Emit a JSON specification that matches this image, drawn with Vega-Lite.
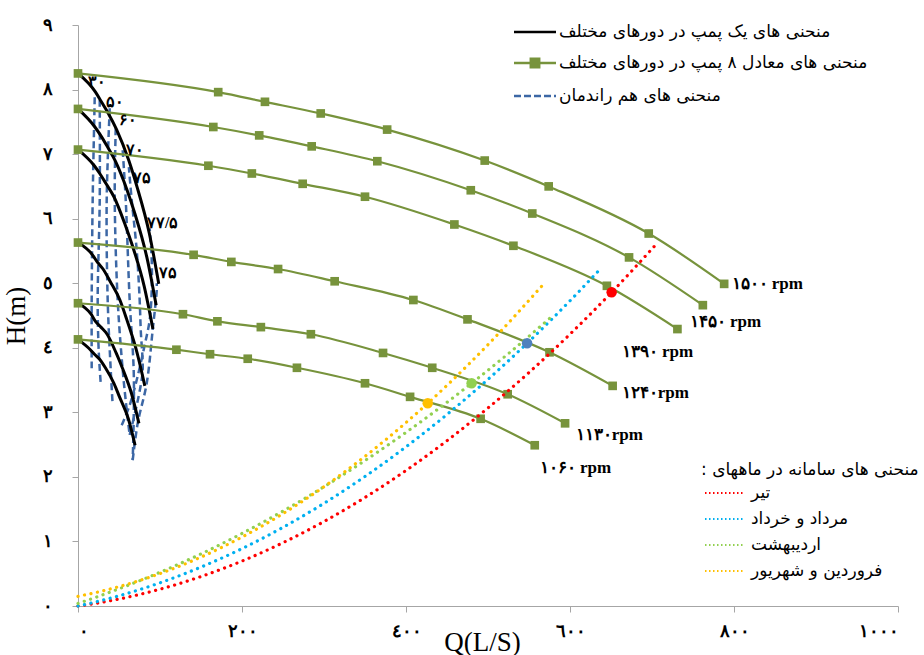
{
  "$schema": "https://vega.github.io/schema/vega-lite/v6.json",
  "width": 820,
  "height": 581,
  "autosize": {"type": "none"},
  "padding": {"left": 78, "top": 25, "right": 26, "bottom": 49},
  "background": "white",
  "config": {
    "view": {"stroke": null},
    "axis": {
      "grid": false,
      "domainColor": "#A6A6A6",
      "tickColor": "#A6A6A6",
      "tickSize": 6,
      "labelFont": "Liberation Serif",
      "labelFontWeight": "bold",
      "labelFontSize": 18,
      "labelColor": "#000000",
      "titleFont": "Liberation Serif",
      "titleFontWeight": "normal",
      "titleFontSize": 27,
      "titleColor": "#000000"
    }
  },
  "datasets": {
    "single": [
      {"c": "a", "s": "1500", "x": 0, "y": 8.25}, {"c": "a", "s": "1500", "x": 21.4, "y": 7.96}, {"c": "a", "s": "1500", "x": 28.5, "y": 7.81}, {"c": "a", "s": "1500", "x": 37, "y": 7.63}, {"c": "a", "s": "1500", "x": 47.1, "y": 7.38}, {"c": "a", "s": "1500", "x": 62, "y": 6.9}, {"c": "a", "s": "1500", "x": 71.8, "y": 6.5}, {"c": "a", "s": "1500", "x": 87, "y": 5.77}, {"c": "a", "s": "1500", "x": 98.5, "y": 4.99},
      {"c": "a", "s": "1450", "x": 0, "y": 7.7}, {"c": "a", "s": "1450", "x": 20.6, "y": 7.42}, {"c": "a", "s": "1450", "x": 27.6, "y": 7.29}, {"c": "a", "s": "1450", "x": 35.6, "y": 7.12}, {"c": "a", "s": "1450", "x": 45.6, "y": 6.89}, {"c": "a", "s": "1450", "x": 59.9, "y": 6.44}, {"c": "a", "s": "1450", "x": 69.3, "y": 6.08}, {"c": "a", "s": "1450", "x": 84, "y": 5.4}, {"c": "a", "s": "1450", "x": 95.3, "y": 4.66},
      {"c": "a", "s": "1390", "x": 0, "y": 7.07}, {"c": "a", "s": "1390", "x": 19.9, "y": 6.82}, {"c": "a", "s": "1390", "x": 26.5, "y": 6.7}, {"c": "a", "s": "1390", "x": 34.3, "y": 6.54}, {"c": "a", "s": "1390", "x": 43.8, "y": 6.34}, {"c": "a", "s": "1390", "x": 57.4, "y": 5.91}, {"c": "a", "s": "1390", "x": 66.4, "y": 5.58}, {"c": "a", "s": "1390", "x": 80.6, "y": 4.96}, {"c": "a", "s": "1390", "x": 91.4, "y": 4.29},
      {"c": "a", "s": "1240", "x": 0, "y": 5.63}, {"c": "a", "s": "1240", "x": 17.6, "y": 5.44}, {"c": "a", "s": "1240", "x": 23.4, "y": 5.33}, {"c": "a", "s": "1240", "x": 30.5, "y": 5.22}, {"c": "a", "s": "1240", "x": 39.1, "y": 5.03}, {"c": "a", "s": "1240", "x": 51.1, "y": 4.74}, {"c": "a", "s": "1240", "x": 59.4, "y": 4.44}, {"c": "a", "s": "1240", "x": 71.9, "y": 3.93}, {"c": "a", "s": "1240", "x": 81.5, "y": 3.41},
      {"c": "a", "s": "1130", "x": 0, "y": 4.69}, {"c": "a", "s": "1130", "x": 16, "y": 4.52}, {"c": "a", "s": "1130", "x": 21.3, "y": 4.41}, {"c": "a", "s": "1130", "x": 27.9, "y": 4.32}, {"c": "a", "s": "1130", "x": 35.5, "y": 4.21}, {"c": "a", "s": "1130", "x": 46.5, "y": 3.92}, {"c": "a", "s": "1130", "x": 54, "y": 3.69}, {"c": "a", "s": "1130", "x": 65.5, "y": 3.28}, {"c": "a", "s": "1130", "x": 74.3, "y": 2.83},
      {"c": "a", "s": "1060", "x": 0, "y": 4.13}, {"c": "a", "s": "1060", "x": 15, "y": 3.97}, {"c": "a", "s": "1060", "x": 20.1, "y": 3.9}, {"c": "a", "s": "1060", "x": 25.9, "y": 3.83}, {"c": "a", "s": "1060", "x": 33.4, "y": 3.69}, {"c": "a", "s": "1060", "x": 43.8, "y": 3.45}, {"c": "a", "s": "1060", "x": 50.6, "y": 3.24}, {"c": "a", "s": "1060", "x": 61.4, "y": 2.9}, {"c": "a", "s": "1060", "x": 69.6, "y": 2.49}
    ],
    "eight": [
      {"c": "b", "s": "1500", "x": 0, "y": 8.25}, {"c": "b", "s": "1500", "x": 171, "y": 7.96}, {"c": "b", "s": "1500", "x": 228, "y": 7.81}, {"c": "b", "s": "1500", "x": 296, "y": 7.63}, {"c": "b", "s": "1500", "x": 377, "y": 7.38}, {"c": "b", "s": "1500", "x": 496, "y": 6.9}, {"c": "b", "s": "1500", "x": 574, "y": 6.5}, {"c": "b", "s": "1500", "x": 696, "y": 5.77}, {"c": "b", "s": "1500", "x": 788, "y": 4.99},
      {"c": "b", "s": "1450", "x": 0, "y": 7.7}, {"c": "b", "s": "1450", "x": 165, "y": 7.42}, {"c": "b", "s": "1450", "x": 221, "y": 7.29}, {"c": "b", "s": "1450", "x": 285, "y": 7.12}, {"c": "b", "s": "1450", "x": 365, "y": 6.89}, {"c": "b", "s": "1450", "x": 479, "y": 6.44}, {"c": "b", "s": "1450", "x": 554, "y": 6.08}, {"c": "b", "s": "1450", "x": 672, "y": 5.4}, {"c": "b", "s": "1450", "x": 762, "y": 4.66},
      {"c": "b", "s": "1390", "x": 0, "y": 7.07}, {"c": "b", "s": "1390", "x": 159, "y": 6.82}, {"c": "b", "s": "1390", "x": 212, "y": 6.7}, {"c": "b", "s": "1390", "x": 274, "y": 6.54}, {"c": "b", "s": "1390", "x": 350, "y": 6.34}, {"c": "b", "s": "1390", "x": 459, "y": 5.91}, {"c": "b", "s": "1390", "x": 531, "y": 5.58}, {"c": "b", "s": "1390", "x": 645, "y": 4.96}, {"c": "b", "s": "1390", "x": 731, "y": 4.29},
      {"c": "b", "s": "1240", "x": 0, "y": 5.63}, {"c": "b", "s": "1240", "x": 141, "y": 5.44}, {"c": "b", "s": "1240", "x": 187, "y": 5.33}, {"c": "b", "s": "1240", "x": 244, "y": 5.22}, {"c": "b", "s": "1240", "x": 313, "y": 5.03}, {"c": "b", "s": "1240", "x": 409, "y": 4.74}, {"c": "b", "s": "1240", "x": 475, "y": 4.44}, {"c": "b", "s": "1240", "x": 575, "y": 3.93}, {"c": "b", "s": "1240", "x": 652, "y": 3.41},
      {"c": "b", "s": "1130", "x": 0, "y": 4.69}, {"c": "b", "s": "1130", "x": 128, "y": 4.52}, {"c": "b", "s": "1130", "x": 170, "y": 4.41}, {"c": "b", "s": "1130", "x": 223, "y": 4.32}, {"c": "b", "s": "1130", "x": 284, "y": 4.21}, {"c": "b", "s": "1130", "x": 372, "y": 3.92}, {"c": "b", "s": "1130", "x": 432, "y": 3.69}, {"c": "b", "s": "1130", "x": 524, "y": 3.28}, {"c": "b", "s": "1130", "x": 594, "y": 2.83},
      {"c": "b", "s": "1060", "x": 0, "y": 4.13}, {"c": "b", "s": "1060", "x": 120, "y": 3.97}, {"c": "b", "s": "1060", "x": 161, "y": 3.9}, {"c": "b", "s": "1060", "x": 207, "y": 3.83}, {"c": "b", "s": "1060", "x": 267, "y": 3.69}, {"c": "b", "s": "1060", "x": 350, "y": 3.45}, {"c": "b", "s": "1060", "x": 405, "y": 3.24}, {"c": "b", "s": "1060", "x": 491, "y": 2.9}, {"c": "b", "s": "1060", "x": 557, "y": 2.49}
    ],
    "iso": [
      {"c": "c", "s": "A", "i": 1, "x": 20.4, "y": 7.88}, {"c": "c", "s": "A", "i": 2, "x": 17.9, "y": 6.29}, {"c": "c", "s": "A", "i": 3, "x": 16.7, "y": 4.74}, {"c": "c", "s": "A", "i": 4, "x": 16.7, "y": 3.62},
      {"c": "c", "s": "B", "i": 1, "x": 26.5, "y": 7.84}, {"c": "c", "s": "B", "i": 2, "x": 26.5, "y": 6.29}, {"c": "c", "s": "B", "i": 3, "x": 24.0, "y": 4.74}, {"c": "c", "s": "B", "i": 4, "x": 25.2, "y": 3.97}, {"c": "c", "s": "B", "i": 5, "x": 27.7, "y": 3.45},
      {"c": "c", "s": "C", "i": 1, "x": 38.7, "y": 7.71}, {"c": "c", "s": "C", "i": 2, "x": 35.0, "y": 6.29}, {"c": "c", "s": "C", "i": 3, "x": 36.2, "y": 4.74}, {"c": "c", "s": "C", "i": 4, "x": 39.9, "y": 3.66}, {"c": "c", "s": "C", "i": 5, "x": 42.3, "y": 3.11},
      {"c": "c", "s": "D", "i": 1, "x": 46.0, "y": 7.4}, {"c": "c", "s": "D", "i": 2, "x": 44.8, "y": 6.29}, {"c": "c", "s": "D", "i": 3, "x": 48.4, "y": 4.74}, {"c": "c", "s": "D", "i": 4, "x": 54.5, "y": 3.66}, {"c": "c", "s": "D", "i": 5, "x": 59.4, "y": 3.04}, {"c": "c", "s": "D", "i": 6, "x": 63.0, "y": 2.65},
      {"c": "c", "s": "H", "i": 1, "x": 63.0, "y": 2.65}, {"c": "c", "s": "H", "i": 2, "x": 70.4, "y": 3.04}, {"c": "c", "s": "H", "i": 3, "x": 76.5, "y": 3.42}, {"c": "c", "s": "H", "i": 4, "x": 78.9, "y": 3.66}, {"c": "c", "s": "H", "i": 5, "x": 76.5, "y": 4.28}, {"c": "c", "s": "H", "i": 6, "x": 75.2, "y": 4.74}, {"c": "c", "s": "H", "i": 7, "x": 71.6, "y": 5.51}, {"c": "c", "s": "H", "i": 8, "x": 65.5, "y": 6.29}, {"c": "c", "s": "H", "i": 9, "x": 62.0, "y": 6.8},
      {"c": "c", "s": "E", "i": 1, "x": 54.5, "y": 7.06}, {"c": "c", "s": "E", "i": 2, "x": 58.2, "y": 6.29}, {"c": "c", "s": "E", "i": 3, "x": 63.0, "y": 4.74}, {"c": "c", "s": "E", "i": 4, "x": 67.9, "y": 3.66}, {"c": "c", "s": "E", "i": 5, "x": 67.9, "y": 2.88}, {"c": "c", "s": "E", "i": 6, "x": 66.7, "y": 2.26},
      {"c": "c", "s": "I", "i": 1, "x": 66.7, "y": 2.26}, {"c": "c", "s": "I", "i": 2, "x": 72.8, "y": 2.83}, {"c": "c", "s": "I", "i": 3, "x": 83.8, "y": 3.45}, {"c": "c", "s": "I", "i": 4, "x": 91.1, "y": 4.28}, {"c": "c", "s": "I", "i": 5, "x": 96.0, "y": 4.89}, {"c": "c", "s": "I", "i": 6, "x": 96.0, "y": 5.0},
      {"c": "c", "s": "F", "i": 1, "x": 53.3, "y": 2.8}, {"c": "c", "s": "F", "i": 2, "x": 63.0, "y": 3.11}, {"c": "c", "s": "F", "i": 3, "x": 71.6, "y": 3.5}, {"c": "c", "s": "F", "i": 4, "x": 81.3, "y": 4.04}, {"c": "c", "s": "F", "i": 5, "x": 87.4, "y": 4.43}, {"c": "c", "s": "F", "i": 6, "x": 89.9, "y": 4.89}, {"c": "c", "s": "F", "i": 7, "x": 89.9, "y": 5.36}, {"c": "c", "s": "F", "i": 8, "x": 87.4, "y": 5.85}
    ],
    "sys": [
      {"m": "tir", "x": 0, "y": 0}, {"m": "tir", "x": 25, "y": 0.048}, {"m": "tir", "x": 50, "y": 0.108}, {"m": "tir", "x": 100, "y": 0.26}, {"m": "tir", "x": 150, "y": 0.456}, {"m": "tir", "x": 200, "y": 0.696}, {"m": "tir", "x": 250, "y": 0.981}, {"m": "tir", "x": 300, "y": 1.309}, {"m": "tir", "x": 350, "y": 1.682}, {"m": "tir", "x": 400, "y": 2.099}, {"m": "tir", "x": 450, "y": 2.561}, {"m": "tir", "x": 500, "y": 3.067}, {"m": "tir", "x": 550, "y": 3.617}, {"m": "tir", "x": 600, "y": 4.211}, {"m": "tir", "x": 650, "y": 4.849}, {"m": "tir", "x": 703, "y": 5.574},
      {"m": "mor", "x": 0, "y": 0}, {"m": "mor", "x": 25, "y": 0.074}, {"m": "mor", "x": 50, "y": 0.158}, {"m": "mor", "x": 100, "y": 0.359}, {"m": "mor", "x": 150, "y": 0.603}, {"m": "mor", "x": 200, "y": 0.889}, {"m": "mor", "x": 250, "y": 1.219}, {"m": "mor", "x": 300, "y": 1.591}, {"m": "mor", "x": 350, "y": 2.007}, {"m": "mor", "x": 400, "y": 2.465}, {"m": "mor", "x": 450, "y": 2.967}, {"m": "mor", "x": 500, "y": 3.511}, {"m": "mor", "x": 548, "y": 4.074}, {"m": "mor", "x": 600, "y": 4.728}, {"m": "mor", "x": 634, "y": 5.181},
      {"m": "ord", "x": 0, "y": 0.04}, {"m": "ord", "x": 25, "y": 0.149}, {"m": "ord", "x": 50, "y": 0.266}, {"m": "ord", "x": 100, "y": 0.522}, {"m": "ord", "x": 150, "y": 0.807}, {"m": "ord", "x": 200, "y": 1.124}, {"m": "ord", "x": 250, "y": 1.47}, {"m": "ord", "x": 300, "y": 1.847}, {"m": "ord", "x": 350, "y": 2.253}, {"m": "ord", "x": 400, "y": 2.689}, {"m": "ord", "x": 450, "y": 3.155}, {"m": "ord", "x": 480, "y": 3.45}, {"m": "ord", "x": 525, "y": 3.911}, {"m": "ord", "x": 575, "y": 4.453},
      {"m": "far", "x": 0, "y": 0.15}, {"m": "far", "x": 25, "y": 0.218}, {"m": "far", "x": 50, "y": 0.3}, {"m": "far", "x": 100, "y": 0.502}, {"m": "far", "x": 150, "y": 0.758}, {"m": "far", "x": 200, "y": 1.068}, {"m": "far", "x": 250, "y": 1.431}, {"m": "far", "x": 300, "y": 1.848}, {"m": "far", "x": 350, "y": 2.318}, {"m": "far", "x": 400, "y": 2.841}, {"m": "far", "x": 426.5, "y": 3.14}, {"m": "far", "x": 450, "y": 3.418}, {"m": "far", "x": 500, "y": 4.049}, {"m": "far", "x": 567, "y": 4.976}
    ],
    "ops": [
      {"m": "tir", "x": 650.8, "y": 4.86}, {"m": "mor", "x": 547.7, "y": 4.07}, {"m": "ord", "x": 480, "y": 3.45}, {"m": "far", "x": 426.5, "y": 3.14}
    ],
    "rpm": [
      {"t": "۱۵۰۰ rpm", "x": 797, "y": 4.99}, {"t": "۱۴۵۰ rpm", "x": 746, "y": 4.4}, {"t": "۱۳۹۰ rpm", "x": 663, "y": 3.93}, {"t": "۱۲۴۰rpm", "x": 663, "y": 3.3}, {"t": "۱۱۳۰rpm", "x": 607, "y": 2.65}, {"t": "۱۰۶۰ rpm", "x": 563, "y": 2.14}
    ],
    "eff": [
      {"t": "۳۰", "x": 22.8, "y": 8.12}, {"t": "۵۰", "x": 44.8, "y": 7.81}, {"t": "۶۰", "x": 60.6, "y": 7.53}, {"t": "۷۰", "x": 69.1, "y": 7.06}, {"t": "۷۵", "x": 77.7, "y": 6.63}, {"t": "۷۷/۵", "x": 103.3, "y": 5.93}, {"t": "۷۵", "x": 109.4, "y": 5.16}
    ]
  },
  "encoding": {
    "x": {"field": "x", "type": "quantitative", "scale": {"domain": [0, 1000], "nice": false}, "axis": {"values": [0, 200, 400, 600, 800, 1000], "labelExpr": "['٠','٢٠٠','٤٠٠','٦٠٠','٨٠٠','١٠٠٠'][datum.value/200]", "labelPadding": 10, "title": "Q(L/S)", "titleX": 404, "titleY": 50, "titleBaseline": "bottom"}},
    "y": {"field": "y", "type": "quantitative", "scale": {"domain": [0, 9], "nice": false}, "axis": {"values": [0, 1, 2, 3, 4, 5, 6, 7, 8, 9], "labelExpr": "['٠','١','٢','٣','٤','٥','٦','٧','٨','٩'][datum.value]", "labelPadding": 20, "title": "H(m)", "titlePadding": 12}}
  },
  "layer": [
    {
      "data": {"name": "iso"},
      "mark": {"type": "line", "strokeWidth": 2.5, "strokeDash": [7, 4], "interpolate": "catmull-rom"},
      "encoding": {
        "order": {"field": "i", "type": "quantitative"},
        "detail": {"field": "s"},
        "color": {"field": "c", "type": "nominal", "scale": {"domain": ["a", "b", "c"], "range": ["#000000", "#77933C", "#3C67A5"]},
          "legend": {
            "orient": "none", "legendX": 445, "legendY": -5, "title": null,
            "labelExpr": "datum.value=='a' ? 'منحنی های یک  پمپ در دورهای مختلف' : datum.value=='b' ? 'منحنی های  معادل ۸ پمپ  در دورهای مختلف' : 'منحنی های هم راندمان'",
            "labelFont": "DejaVu Sans", "labelFontSize": 17, "labelColor": "#000000", "labelLimit": 0,
            "symbolSize": 441, "symbolType": "M-2,0H2", "symbolStrokeWidth": 2.5, "labelOffset": 12, "rowPadding": 11,
            "encode": {"symbols": {"update": {
              "shape": {"signal": "datum.value=='b' ? 'M-2,0H2M-0.4,-0.4H0.4V0.4H-0.4Z' : 'M-2,0H2'"},
              "fill": {"signal": "datum.value=='b' ? '#77933C' : 'transparent'"},
              "strokeDash": {"signal": "datum.value=='c' ? [7,3] : [1,0]"}
            }}}
          }
        }
      }
    },
    {
      "data": {"name": "single"},
      "mark": {"type": "line", "strokeWidth": 3, "interpolate": "monotone"},
      "encoding": {
        "detail": {"field": "s"},
        "color": {"field": "c", "type": "nominal", "scale": {"domain": ["a", "b", "c"], "range": ["#000000", "#77933C", "#3C67A5"]}, "legend": null}
      }
    },
    {
      "data": {"name": "eight"},
      "mark": {"type": "line", "strokeWidth": 2.2, "interpolate": "monotone"},
      "encoding": {
        "detail": {"field": "s"},
        "color": {"field": "c", "type": "nominal", "scale": {"domain": ["a", "b", "c"], "range": ["#000000", "#77933C", "#3C67A5"]}, "legend": null}
      }
    },
    {
      "data": {"name": "eight"},
      "mark": {"type": "point", "shape": "square", "filled": true, "size": 75, "opacity": 1, "color": "#77933C"}
    },
    {
      "data": {"name": "sys"},
      "mark": {"type": "line", "strokeWidth": 3.2, "strokeDash": [0.1, 6.5], "strokeCap": "round", "interpolate": "monotone"},
      "encoding": {
        "detail": {"field": "m"},
        "color": {"field": "m", "type": "nominal", "scale": {"domain": ["tir", "mor", "ord", "far"], "range": ["#FF0000", "#00B0F0", "#92D050", "#FFC000"]},
          "legend": {
            "orient": "none", "legendX": 623, "legendY": 437,
            "title": "منحنی های سامانه در ماههای :‏",
            "titleFont": "DejaVu Sans", "titleFontSize": 17, "titleFontWeight": "normal", "titleColor": "#000000", "titlePadding": 3, "titleLimit": 0,
            "labelExpr": "datum.value=='tir' ? 'تیر' : datum.value=='mor' ? 'مرداد و خرداد' : datum.value=='ord' ? 'اردیبهشت' : 'فروردین و شهریور'",
            "labelFont": "DejaVu Sans", "labelFontSize": 17, "labelColor": "#000000", "labelLimit": 0,
            "symbolSize": 400, "symbolType": "M-2,0H2", "symbolStrokeWidth": 2, "labelOffset": 15, "rowPadding": 7,
            "encode": {"symbols": {"update": {"fill": {"value": "transparent"}, "strokeDash": {"value": [1.5, 2.5]}}}, "title": {"update": {"dx": {"value": -13}}}}
          }
        }
      }
    },
    {
      "data": {"name": "ops"},
      "mark": {"type": "circle", "size": 110, "opacity": 1},
      "encoding": {
        "fill": {"field": "m", "type": "nominal", "scale": {"domain": ["tir", "mor", "ord", "far"], "range": ["#FF0000", "#4F81BD", "#92D050", "#FFC000"]}, "legend": null}
      }
    },
    {
      "data": {"name": "rpm"},
      "mark": {"type": "text", "align": "left", "baseline": "middle", "font": "Liberation Serif", "fontWeight": "bold", "fontSize": 17, "color": "#000000"},
      "encoding": {"text": {"field": "t"}}
    },
    {
      "data": {"name": "eff"},
      "mark": {"type": "text", "align": "center", "baseline": "middle", "font": "Liberation Serif", "fontWeight": "bold", "fontSize": 16, "color": "#000000"},
      "encoding": {"text": {"field": "t"}}
    }
  ],
  "resolve": {"scale": {"color": "independent"}}
}
